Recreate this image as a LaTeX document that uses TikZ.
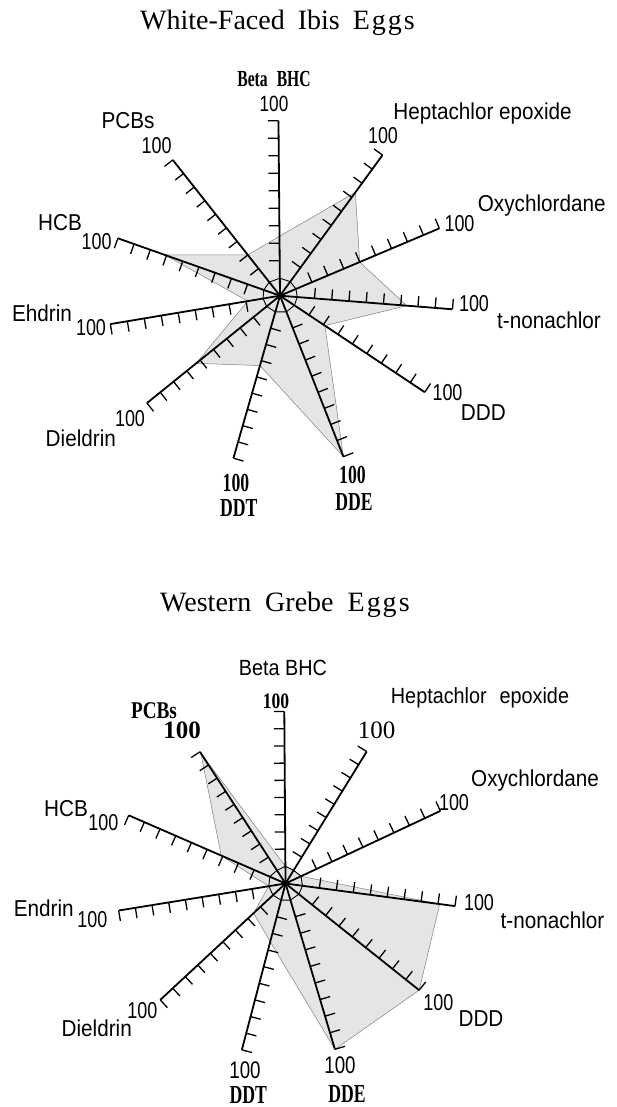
\documentclass[tikz,border=0pt]{standalone}
\usepackage{fontspec}
\setmainfont{Liberation Serif}
\setsansfont[FakeStretch=0.9]{Liberation Sans}
\newfontfamily\numfont[FakeStretch=0.78]{Liberation Sans}
\newfontfamily\condfont[FakeStretch=0.68]{Liberation Serif}
\newfontfamily\semicond[FakeStretch=0.8]{Liberation Serif}

\tikzset{
  axis/.style={line width=1.8pt},
  tickmark/.style={line width=1.3pt},
  ring/.style={line width=0.9pt},
  data/.style={fill=black!10, draw=black!50, line width=0.5pt},
  lab/.style={font=\sffamily\fontsize{23}{23}\selectfont, inner sep=0pt, anchor=base},
  num/.style={font=\numfont\fontsize{23}{23}\selectfont, inner sep=0pt, anchor=base},
  blab/.style={font=\condfont\bfseries\fontsize{26}{26}\selectfont, inner sep=0pt, anchor=base},
  title/.style={font=\fontsize{28}{28}\selectfont, inner sep=0pt, anchor=base west}
}

% name/angle/length/value of each axis
\def\ibis{bhc/90.5/175/0.34, hep/53.9/174/0.735, oxy/22.9/173/0.50, tno/-4.5/173/0.735,
  ddd/-33.7/174/0.31, dde/-68.5/173/1.0, ddt/-106/169/0.43, die/218.9/171/0.63,
  edr/189.5/172/0.19, hcb/160.5/172/0.71, pcb/128.3/173/0.30}
\def\grebe{bhc/90.4/172/0.1, hep/58.4/155/0.1, oxy/25.1/171/0.1, tno/-7.6/171/0.91,
  ddd/-38.6/171/1.0, dde/-73.4/173/1.0, ddt/-104.7/172/0.35, die/222.9/171/0.255,
  edr/189.2/169/0.1, hcb/156.5/171/0.41, pcb/123/157/0.99}

\begin{document}
\begin{tikzpicture}[x=1pt,y=1pt]
  \useasboundingbox (0,0) rectangle (617,-1107);

  % White-Faced Ibis
  \node[title] (t1) at (140,-30) {White-Faced\hspace{13pt}Ibis\hspace{13pt}E\kern2pt g\kern2pt g\kern2pt s};
  \begin{scope}[shift={(280,-295.7)}]
    \foreach \n/\a/\l/\v in \ibis {
      \coordinate (a-\n) at ({\a}:{\l});
      \coordinate (a-\n-v) at ({\a}:{\v*\l});
      \coordinate (a-\n-r) at ({\a}:{0.1*\l});
    }
    \filldraw[data] (a-bhc-v) -- (a-hep-v) -- (a-oxy-v) -- (a-tno-v) -- (a-ddd-v) -- (a-dde-v)
      -- (a-ddt-v) -- (a-die-v) -- (a-edr-v) -- (a-hcb-v) -- (a-pcb-v) -- cycle;
    \draw[ring] (a-bhc-r) -- (a-hep-r) -- (a-oxy-r) -- (a-tno-r) -- (a-ddd-r) -- (a-dde-r)
      -- (a-ddt-r) -- (a-die-r) -- (a-edr-r) -- (a-hcb-r) -- (a-pcb-r) -- cycle;
    \foreach \n/\a/\l/\v in \ibis {
      \draw[axis] (0,0) -- (a-\n);
      \foreach \k in {2,...,10}
        \draw[tickmark] ({\a}:{\k*\l/10}) -- ++({\a+90}:10.5);
    }
  \end{scope}

  \node[blab, font=\condfont\bfseries\fontsize{23}{23}\selectfont] (a-bhc-name) at (274,-86.5) {Beta\hspace{9pt}BHC};
  \node[num, font=\numfont\fontsize{22}{22}\selectfont] (a-bhc-100) at (274,-112) {100};
  \node[lab] (a-pcb-name) at (128,-128.3) {PCBs};
  \node[num] (a-pcb-100) at (156.7,-153.3) {100};
  \node[lab] (a-hep-name) at (482.5,-119.3) {Heptachlor epoxide};
  \node[num] (a-hep-100) at (383,-143.3) {100};
  \node[lab] (a-oxy-name) at (541.7,-211.7) {Oxychlordane};
  \node[num] (a-oxy-100) at (459.5,-231.7) {100};
  \node[num] (a-tno-100) at (474,-311.7) {100};
  \node[lab] (a-tno-name) at (549,-328.3) {t-nonachlor};
  \node[num] (a-ddd-100) at (447.5,-400) {100};
  \node[lab] (a-ddd-name) at (483.3,-420) {DDD};
  \node[blab] (a-dde-100) at (352.5,-483.3) {100};
  \node[blab] (a-dde-name) at (354,-510.7) {DDE};
  \node[blab] (a-ddt-100) at (236,-491.7) {100};
  \node[blab] (a-ddt-name) at (238.7,-516.7) {DDT};
  \node[num] (a-die-100) at (130,-426.7) {100};
  \node[lab] (a-die-name) at (80.8,-446.7) {Dieldrin};
  \node[lab] (a-edr-name) at (42,-321.7) {Ehdrin};
  \node[num] (a-edr-100) at (91,-335) {100};
  \node[lab] (a-hcb-name) at (60,-230.7) {HCB};
  \node[num] (a-hcb-100) at (96.7,-249.3) {100};

  % Western Grebe
  \node[title] (t2) at (160,-611.7) {Western\hspace{14pt}Grebe\hspace{14pt}E\kern2pt g\kern2pt g\kern2pt s};
  \begin{scope}[shift={(285.5,-883.5)}]
    \foreach \n/\a/\l/\v in \grebe {
      \coordinate (b-\n) at ({\a}:{\l});
      \coordinate (b-\n-v) at ({\a}:{\v*\l});
      \coordinate (b-\n-r) at ({\a}:{0.1*\l});
    }
    \filldraw[data] (b-bhc-v) -- (b-hep-v) -- (b-oxy-v) -- (b-tno-v) -- (b-ddd-v) -- (b-dde-v)
      -- (b-ddt-v) -- (b-die-v) -- (b-edr-v) -- (b-hcb-v) -- (b-pcb-v) -- cycle;
    \draw[ring] (b-bhc-r) -- (b-hep-r) -- (b-oxy-r) -- (b-tno-r) -- (b-ddd-r) -- (b-dde-r)
      -- (b-ddt-r) -- (b-die-r) -- (b-edr-r) -- (b-hcb-r) -- (b-pcb-r) -- cycle;
    \foreach \n/\a/\l/\v in \grebe {
      \draw[axis] (0,0) -- (b-\n);
      \foreach \k in {2,...,10}
        \draw[tickmark] ({\a}:{\k*\l/10}) -- ++({\a+90}:10.5);
    }
  \end{scope}

  \node[lab, font=\sffamily\fontsize{22}{22}\selectfont] (b-bhc-name) at (283,-675) {Beta BHC};
  \node[blab, font=\semicond\bfseries\fontsize{22}{22}\selectfont] (b-bhc-100) at (276,-708.3) {100};
  \node[blab, font=\semicond\bfseries\fontsize{24}{24}\selectfont] (b-pcb-name) at (154,-718.3) {PCBs};
  \node[blab, font=\bfseries\fontsize{25}{25}\selectfont] (b-pcb-100) at (182,-738.3) {100};
  \node[lab, font=\sffamily\fontsize{22}{22}\selectfont] (b-hep-name) at (480,-703) {Heptachlor\hspace{13pt}epoxide};
  \node[blab, font=\fontsize{25}{25}\selectfont] (b-hep-100) at (376.7,-738.3) {100};
  \node[lab] (b-oxy-name) at (535,-786.7) {Oxychlordane};
  \node[num] (b-oxy-100) at (454,-810) {100};
  \node[num] (b-tno-100) at (479,-910) {100};
  \node[lab] (b-tno-name) at (552.5,-928.3) {t-nonachlor};
  \node[num] (b-ddd-100) at (438.3,-1010) {100};
  \node[lab] (b-ddd-name) at (481,-1026.7) {DDD};
  \node[num] (b-die-100) at (142.3,-1018.3) {100};
  \node[lab] (b-die-name) at (96.7,-1036.7) {Dieldrin};
  \node[lab] (b-edr-name) at (43.7,-916.7) {Endrin};
  \node[num] (b-edr-100) at (92.3,-927.3) {100};
  \node[lab] (b-hcb-name) at (66,-816.7) {HCB};
  \node[num] (b-hcb-100) at (103.3,-830) {100};
  \node[num, font=\numfont\fontsize{24}{24}\selectfont] (b-ddt-100) at (245,-1078.3) {100};
  \node[blab] (b-ddt-name) at (248.3,-1103.5) {DDT};
  \node[num, font=\numfont\fontsize{24}{24}\selectfont] (b-dde-100) at (340,-1073.3) {100};
  \node[blab] (b-dde-name) at (347,-1102.5) {DDE};
\end{tikzpicture}
\end{document}
